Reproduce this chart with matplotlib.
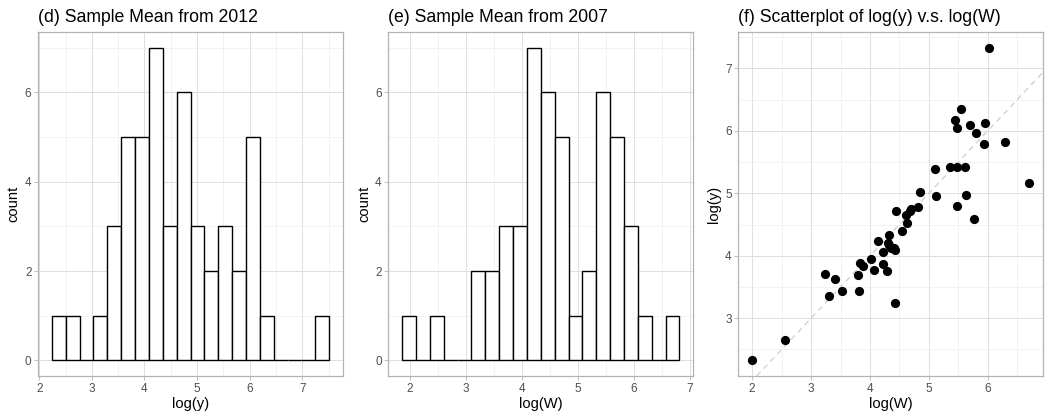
import matplotlib
matplotlib.use("Agg")
import matplotlib.pyplot as plt
import numpy as np

log_w = [2.000, 2.566, 3.239, 3.313, 3.403, 3.528, 3.794, 3.817, 3.825, 3.885,
         4.015, 4.071, 4.145, 4.218, 4.224, 4.292, 4.330, 4.320, 4.365, 4.428,
         4.433, 4.445, 4.541, 4.620, 4.632, 4.699, 4.818, 4.845, 5.101, 5.118,
         5.362, 5.446, 5.480, 5.486, 5.486, 5.543, 5.616, 5.628, 5.696, 5.763,
         5.809, 5.950, 5.944, 6.024, 6.290, 6.708, 4.300, 4.400, 4.680]
log_y = [2.326, 2.655, 3.705, 3.361, 3.636, 3.435, 3.689, 3.435, 3.880, 3.830,
         3.955, 3.769, 4.236, 4.055, 3.864, 3.758, 4.326, 4.172, 4.119, 4.093,
         3.244, 4.718, 4.400, 4.649, 4.527, 4.745, 4.777, 5.021, 5.390, 4.957,
         5.429, 6.172, 5.420, 6.044, 4.793, 6.352, 5.429, 4.978, 6.097, 4.596,
         5.965, 6.134, 5.795, 7.333, 5.822, 5.169, 4.200, 4.120, 4.720]

TITLES = ["(d) Sample Mean from 2012", "(e) Sample Mean from 2007",
          "(f) Scatterplot of log(y) v.s. log(W)"]
N_BINS = 20

plt.rcParams.update({
    "font.family": ["Liberation Sans", "DejaVu Sans"],
    "axes.edgecolor": "#B3B3B3",
    "axes.linewidth": 0.9,
    "xtick.color": "#B3B3B3",
    "ytick.color": "#B3B3B3",
    "xtick.labelcolor": "#4D4D4D",
    "ytick.labelcolor": "#4D4D4D",
    "xtick.labelsize": 8.5,
    "ytick.labelsize": 8.5,
    "xtick.major.size": 2.7,
    "ytick.major.size": 2.7,
    "xtick.major.width": 0.6,
    "ytick.major.width": 0.6,
    "xtick.major.pad": 2,
    "ytick.major.pad": 2,
})


def gg_edges(vals, bins=N_BINS):
    # same break rule as ggplot2's stat_bin(bins = n)
    lo, hi = min(vals), max(vals)
    w = (hi - lo) / (bins - 1)
    b = w / 2
    origin = b + np.floor((lo - b) / w) * w
    return origin + np.arange(bins + 1) * w


def style(ax, xmajor, xminor, ymajor, yminor):
    ax.set_xticks(xmajor)
    ax.set_xticks(xminor, minor=True)
    ax.set_yticks(ymajor)
    ax.set_yticks(yminor, minor=True)
    ax.tick_params(which="minor", length=0)
    ax.grid(which="major", color="#DEDEDE", linewidth=0.7)
    ax.grid(which="minor", color="#EDEDED", linewidth=0.5)
    ax.set_axisbelow(True)
    for s in ax.spines.values():
        s.set_zorder(5)


fig = plt.figure(figsize=(10.51, 4.19), dpi=100)
lefts = [38 / 1051, 388.3 / 1051, 738.3 / 1051]
axes = [fig.add_axes([l, 43 / 419, 305 / 1051, 344 / 419]) for l in lefts]

for ax, vals, xlabel, title in zip(axes[:2], [log_y, log_w], ["log(y)", "log(W)"], TITLES[:2]):
    edges = gg_edges(vals)
    counts, _ = np.histogram(vals, bins=edges)
    ax.hist(vals, bins=edges, facecolor="white", edgecolor="black", linewidth=1.0, zorder=3)
    style(ax, range(2, 8), np.arange(1.5, 8, 0.5), [0, 2, 4, 6], [1, 3, 5, 7])
    span = edges[-1] - edges[0]
    ax.set_xlim(edges[0] - 0.05 * span, edges[-1] + 0.05 * span)
    top = counts.max()
    ax.set_ylim(-0.05 * top, top * 1.05)
    ax.set_xlabel(xlabel, fontsize=10.6, labelpad=2)
    ax.set_ylabel("count", fontsize=10.6, labelpad=3)
    ax.set_title(title, loc="left", fontsize=12.7, pad=7)

ax = axes[2]
ax.axline((0, 0), slope=1, color="#C8C8C8", linestyle=(0, (5, 4)), linewidth=0.8, zorder=2)
ax.scatter(log_w, log_y, s=44, color="black", linewidths=0, zorder=3)
style(ax, range(2, 7), np.arange(1.5, 7.5, 0.5), range(3, 8), np.arange(2.5, 8, 0.5))
xs, ys = np.array(log_w), np.array(log_y)
ax.set_xlim(xs.min() - 0.05 * np.ptp(xs), xs.max() + 0.05 * np.ptp(xs))
ax.set_ylim(ys.min() - 0.05 * np.ptp(ys), ys.max() + 0.05 * np.ptp(ys))
ax.set_xlabel("log(W)", fontsize=10.6, labelpad=2)
ax.set_ylabel("log(y)", fontsize=10.6, labelpad=3)
ax.set_title(TITLES[2], loc="left", fontsize=12.7, pad=7)

fig.savefig("out.png", dpi=100)
